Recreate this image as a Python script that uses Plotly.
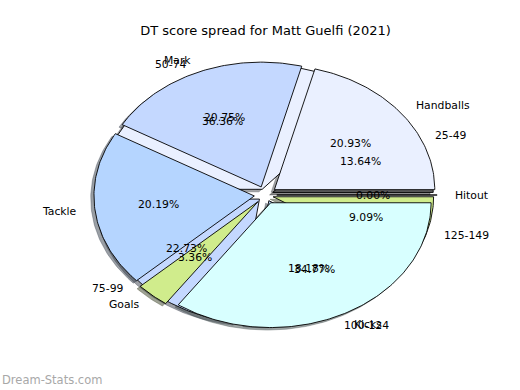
import numpy as np
import plotly.graph_objects as go

title_text = "DT score spread for Matt Guelfi (2021)"
watermark = "Dream-Stats.com"

# Pie 1: share of DT score by stat category (percent)
cat_labels = ["Hitout", "Handballs", "Mark", "Tackle", "Goals", "Kicks"]
cat_values = [0.0, 20.93, 20.75, 20.19, 3.36, 34.77]
cat_colors = ["#5e5e5e", "#eaf0ff", "#c4d8ff", "#b5d5ff", "#d0ec8c", "#d8ffff"]
cat_explode = 0.07

# Pie 2: number of games per score range
range_labels = ["25-49", "50-74", "75-99", "100-124", "125-149"]
range_counts = [3, 8, 5, 4, 2]
range_colors = ["#5e5e5e", "#eaf0ff", "#c4d8ff", "#b5d5ff", "#d0ec8c"]
range_explode = 0.05

FONT = "DejaVu Sans"
LABEL_DIST = 1.1
PCT_DIST = 0.6
SHADOW_OFF = -0.02


def hex_rgb(h):
    h = h.lstrip("#")
    return tuple(int(h[i:i + 2], 16) for i in (0, 2, 4))


def wedges(values, explode):
    vals = np.asarray(values, dtype=float)
    fr = vals / vals.sum()
    out = []
    theta1 = 0.0
    for f in fr:
        theta2 = theta1 + 360.0 * f
        mid = np.deg2rad((theta1 + theta2) / 2)
        cx = explode * np.cos(mid)
        cy = explode * np.sin(mid)
        n = max(2, int(abs(theta2 - theta1) / 1.0) + 2)
        t = np.deg2rad(np.linspace(theta1, theta2, n))
        xs = np.concatenate([[cx], cx + np.cos(t), [cx]])
        ys = np.concatenate([[cy], cy + np.sin(t), [cy]])
        out.append(dict(xs=xs, ys=ys, mid=mid, cx=cx, cy=cy, pct=100 * f))
        theta1 = theta2
    return out


fig = go.Figure()

pies = [
    (wedges(range_counts, range_explode), range_labels, range_colors),
    (wedges(cat_values, cat_explode), cat_labels, cat_colors),
]

# shadows below everything
for ws, labels, colors in pies:
    for w, c in zip(ws, colors):
        r, g, b = hex_rgb(c)
        sc = "rgba(%d,%d,%d,0.5)" % (r * 0.3, g * 0.3, b * 0.3)
        fig.add_trace(go.Scatter(
            x=w["xs"] + SHADOW_OFF, y=w["ys"] + SHADOW_OFF, mode="lines",
            fill="toself", fillcolor=sc, line=dict(color=sc, width=0.7),
            hoverinfo="skip", showlegend=False))

# wedges: score-range pie first, categories on top
for ws, labels, colors in pies:
    for w, c in zip(ws, colors):
        fig.add_trace(go.Scatter(
            x=w["xs"], y=w["ys"], mode="lines", fill="toself", fillcolor=c,
            line=dict(color="black", width=0.9), hoverinfo="skip",
            showlegend=False))

annotations = []
for ws, labels, colors in pies:
    for w, lab in zip(ws, labels):
        xt = w["cx"] + LABEL_DIST * np.cos(w["mid"])
        yt = w["cy"] + LABEL_DIST * np.sin(w["mid"])
        annotations.append(dict(
            x=xt, y=yt, xref="x", yref="y", text=lab, showarrow=False,
            xanchor="left" if xt > 0 else "right", yanchor="middle",
            font=dict(family=FONT, size=10.8, color="black")))
        xp = w["cx"] + PCT_DIST * np.cos(w["mid"])
        yp = w["cy"] + PCT_DIST * np.sin(w["mid"])
        annotations.append(dict(
            x=xp, y=yp, xref="x", yref="y", text="%1.2f%%" % w["pct"],
            showarrow=False, xanchor="center", yanchor="middle",
            font=dict(family=FONT, size=10.8, color="black")))

L, R, T, B = 65, 54, 39, 39
PW, PH = 520 - L - R, 390 - T - B
annotations.append(dict(
    x=(0 - L) / PW, y=(390 - B - 380) / PH, xref="paper", yref="paper",
    text=watermark, showarrow=False, xanchor="left", yanchor="middle",
    font=dict(family=FONT, size=11.5, color="#a8a8a8")))

fig.update_layout(
    width=520, height=390, autosize=False,
    margin=dict(l=L, r=R, t=T, b=B, pad=0),
    paper_bgcolor="white", plot_bgcolor="white",
    title=dict(text=title_text, x=0.5, xref="paper", xanchor="center",
               y=1 - 30 / 390, yref="container", yanchor="middle",
               font=dict(family=FONT, size=13, color="black")),
    xaxis=dict(range=[-1.25, 1.25], visible=False, fixedrange=True),
    yaxis=dict(range=[-1.25, 1.25], visible=False, fixedrange=True),
    annotations=annotations,
    showlegend=False,
)

fig.write_html("out.html")
